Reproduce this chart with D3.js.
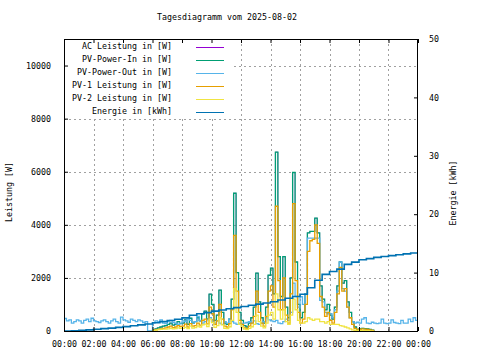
<!DOCTYPE html>
<html><head><meta charset="utf-8">
<script src="https://cdn.jsdelivr.net/npm/d3@7"></script>
<style>
body{margin:0;background:#fff;}
svg{display:block;}
text{font-family:"DejaVu Sans Mono",monospace;font-size:8.3px;fill:#000;}
</style></head><body>
<svg id="c" width="480" height="360"></svg>
<script>
// ---- data ----
const title = "Tagesdiagramm vom 2025-08-02";
const xTickHours = [0,2,4,6,8,10,12,14,16,18,20,22,24];
const xTickLabels = ["00:00","02:00","04:00","06:00","08:00","10:00","12:00","14:00","16:00","18:00","20:00","22:00","00:00"];
const yLeftTicks = [0,2000,4000,6000,8000,10000];
const yRightTicks = [0,10,20,30,40,50];
const seriesNames = ["AC Leistung in [W]","PV-Power-In in [W]","PV-Power-Out in [W]","PV-1 Leistung in [W]","PV-2 Leistung in [W]","Energie in [kWh]"];
const seriesColors = ["#9400d3","#009e73","#56b4e9","#e69f00","#f0e442","#0072b2"];

// daytime series: 10-minute steps from 06:00 to 21:00
const dayStartHour = 6;
const acLeistung = [50,80,120,150,180,200,
250,300,220,260,350,280,
300,420,250,480,300,350,
500,380,650,750,450,1390,
1000,400,600,1540,700,300,
250,450,1200,5190,2200,700,
400,200,150,300,500,900,
2180,1100,500,300,900,2100,
2370,1400,6740,2800,1300,2800,
900,500,2000,5970,2600,1000,
500,700,1400,3700,3750,3750,
4250,3700,1700,1200,800,1000,
600,450,900,1700,2600,1800,
1900,1100,700,350,150,60,
80,100,90,80,60,30,
0];
const pvPowerIn = [50,80,120,150,180,200,
250,300,220,260,350,280,
300,420,250,480,300,350,
500,380,650,750,450,1390,
1000,400,600,1540,700,300,
250,450,1200,5190,2200,700,
400,200,150,300,500,900,
2180,1100,500,300,900,2100,
2370,1400,6740,2800,1300,2800,
900,500,2000,5970,2600,1000,
500,700,1400,3700,3750,3750,
4250,3700,1700,1200,800,1000,
600,450,900,1700,2600,1800,
1900,1100,700,350,150,60,
80,100,90,80,60,30,
0];
const pv1 = [20,40,60,80,100,120,
150,180,130,150,200,170,
180,260,150,280,180,200,
300,220,400,450,270,900,
650,250,380,1000,450,180,
150,280,800,3600,1500,400,
250,120,90,180,300,550,
1500,700,300,180,550,1500,
1700,900,4700,1900,800,2000,
600,300,1400,4800,1900,700,
300,450,1000,3000,3400,3450,
4000,3300,1300,900,550,700,
400,300,700,1400,2400,1500,
1600,900,500,250,100,40,
60,80,70,60,40,20,
0];
const pv2 = [20,30,50,60,70,70,
80,100,80,90,120,100,
100,140,90,180,110,130,
180,150,230,260,170,450,
320,140,200,500,230,100,
90,160,400,1600,700,250,
150,70,50,100,160,250,
600,350,180,120,300,600,
700,450,1400,800,450,800,
350,250,600,1200,800,400,
300,300,350,500,450,400,
450,450,350,350,300,350,
250,250,250,250,200,180,
150,120,80,40,20,20,
20,20,10,10,0,0,
0];
// whole-day series: 10-minute steps from 00:00 to 24:00
const pvPowerOut = [470,380,420,300,350,420,
380,300,400,450,350,480,
380,350,320,380,420,350,
300,380,450,350,300,520,
420,380,330,450,400,350,
420,380,320,350,0,0,
300,380,350,420,300,280,
350,400,320,300,250,300,
380,350,450,400,300,350,
550,400,300,350,420,500,
350,300,380,300,250,350,
300,450,350,300,250,300,
280,300,320,350,300,380,
280,250,300,350,500,420,
380,350,400,300,280,350,
450,400,700,1800,1300,900,
1290,1000,1400,3500,3500,3500,
3500,3500,1150,1100,700,650,
650,500,800,1500,2600,1600,
1500,900,500,350,300,330,
300,450,500,300,280,330,
300,280,300,450,300,280,
300,420,320,300,280,400,
300,300,450,350,500,400,
300];
// energy: 30-minute steps from 00:00 to 24:00
const energie = [0,0.05,0.12,0.2,0.3,0.4,0.5,0.62,0.75,0.9,1.05,1.2,
1.4,1.6,1.8,2.0,2.25,2.7,2.95,3.15,3.4,3.6,3.8,4.0,
4.2,4.4,4.6,4.8,5.0,5.3,5.6,5.9,6.3,7.4,8.7,9.7,
10.2,10.6,11.4,11.8,12.2,12.4,12.6,12.75,12.9,13.05,13.2,13.35,
13.5];

// ---- layout ----
const L=64,R=418,T=39,B=331;
const svg=d3.select("#c");
const x=d3.scaleLinear().domain([0,24]).range([L,R]);
const yL=d3.scaleLinear().domain([0,11000]).range([B,T]);
const yR=d3.scaleLinear().domain([0,50]).range([B,T]);

svg.append("text").attr("x",227).attr("y",20).attr("text-anchor","middle").text(title);

// grid
const grid=svg.append("g").attr("stroke","#a0a0a0").attr("stroke-dasharray","2,3").attr("stroke-width",1);
yLeftTicks.filter(v=>v>0).forEach(v=>{
  grid.append("line").attr("x1",L).attr("x2",R).attr("y1",Math.round(yL(v))+0.5).attr("y2",Math.round(yL(v))+0.5);
});
xTickHours.filter(h=>h>0&&h<24).forEach(h=>{
  grid.append("line").attr("y1",T).attr("y2",B).attr("x1",Math.round(x(h))+0.5).attr("x2",Math.round(x(h))+0.5);
});

// data
svg.append("clipPath").attr("id","clip").append("rect").attr("x",L).attr("y",T).attr("width",R-L).attr("height",B-T);
const gd=svg.append("g").attr("clip-path","url(#clip)");
const dayLine=d3.line().x((d,i)=>x(dayStartHour+i/6)).y(d=>yL(d)).curve(d3.curveStepAfter);
const fullLine=d3.line().x((d,i)=>x(i/6)).y(d=>yL(d)).curve(d3.curveStepAfter);
const eLine=d3.line().x((d,i)=>x(i/2)).y(d=>yR(d)).curve(d3.curveStepAfter);
const draws=[[acLeistung,dayLine,0.6],[pvPowerIn,dayLine,1.3],[pvPowerOut,fullLine,1.3],[pv1,dayLine,1.3],[pv2,dayLine,1.3],[energie,eLine,1.6]];
draws.forEach(([arr,gen,w],k)=>{
  gd.append("path").attr("d",gen(arr)).attr("fill","none").attr("stroke",seriesColors[k]).attr("stroke-width",w);
});

// legend (opaque)
svg.append("rect").attr("x",L+1).attr("y",T+1).attr("width",166).attr("height",79).attr("fill","#fff");
seriesNames.forEach((n,k)=>{
  const yy=46.5+k*13;
  svg.append("text").attr("x",172).attr("y",yy).attr("dy","0.35em").attr("text-anchor","end").text(n);
  svg.append("line").attr("x1",196).attr("x2",224).attr("y1",Math.round(yy)+0.5).attr("y2",Math.round(yy)+0.5)
    .attr("stroke",seriesColors[k]).attr("stroke-width",1).attr("shape-rendering","crispEdges");
});

// axes
const ax=svg.append("g");
ax.append("g").attr("transform",`translate(0,${B})`)
  .call(d3.axisBottom(x).tickValues(xTickHours).tickSize(-4).tickPadding(10).tickFormat((d,i)=>xTickLabels[i]));
ax.append("g").attr("transform",`translate(0,${T})`)
  .call(d3.axisTop(x).tickValues(xTickHours).tickSize(-4).tickFormat(""));
ax.append("g").attr("transform",`translate(${L},0)`)
  .call(d3.axisLeft(yL).tickValues(yLeftTicks).tickSize(-4).tickPadding(13).tickFormat(d3.format("d")));
ax.append("g").attr("transform",`translate(${R},0)`)
  .call(d3.axisRight(yR).tickValues(yRightTicks).tickSize(-4).tickPadding(11).tickFormat(d3.format("d")));
ax.selectAll(".domain").remove();
ax.selectAll("text").attr("font-family",null).attr("font-size",null).style("font-family","'DejaVu Sans Mono',monospace").style("font-size","8.3px");
ax.selectAll(".tick line").attr("stroke","#000");

svg.append("rect").attr("x",L+0.5).attr("y",T+0.5).attr("width",R-L-1).attr("height",B-T).attr("fill","none").attr("stroke","#000").attr("stroke-width",1);

svg.append("text").attr("transform","translate(9,192) rotate(-90)").attr("text-anchor","middle").attr("dy","0.35em").text("Leistung [W]");
svg.append("text").attr("transform","translate(453,193) rotate(-90)").attr("text-anchor","middle").attr("dy","0.35em").text("Energie [kWh]");
</script></body></html>
